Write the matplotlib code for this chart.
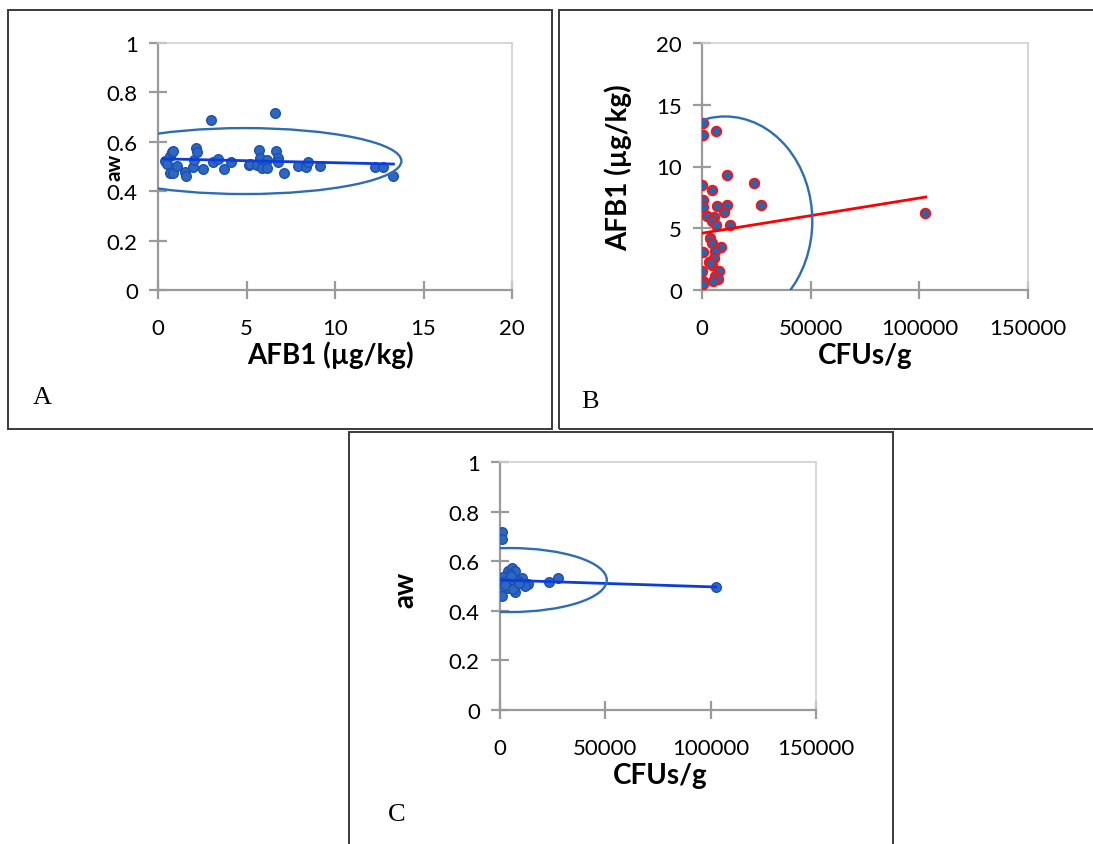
import numpy as np
import matplotlib
matplotlib.use("Agg")
import matplotlib.pyplot as plt
from matplotlib.patches import Ellipse, Rectangle

# panel A: AFB1 (ug/kg) vs aw
a_afb1 = [3.0, 6.6, 0.38, 0.53, 0.68, 0.77, 0.83, 0.68, 0.87, 1.05, 1.53, 1.56,
          2.0, 2.03, 2.15, 2.2, 2.56, 3.13, 3.41, 3.75, 4.1, 5.12, 5.2, 5.58,
          5.7, 5.76, 5.86, 6.14, 6.14, 6.65, 6.76, 6.8, 7.14, 7.9, 8.36, 8.47,
          9.15, 12.28, 12.69, 13.28]
a_aw = [0.69, 0.715, 0.523, 0.509, 0.541, 0.557, 0.564, 0.472, 0.472, 0.503, 0.479, 0.463,
        0.497, 0.528, 0.575, 0.56, 0.489, 0.517, 0.53, 0.49, 0.517, 0.506, 0.51, 0.506,
        0.567, 0.534, 0.494, 0.525, 0.494, 0.564, 0.534, 0.519, 0.475, 0.501, 0.497, 0.517,
        0.503, 0.497, 0.497, 0.46]
a_trend_x = [0.3, 13.3]
a_trend_y = [0.531, 0.510]

# panel B: CFUs/g vs AFB1
b_cfu = [600, 600, 6460, 11400, 23700, 150, 4480, 600, 600, 7060, 11400, 27240,
         10160, 2170, 5540, 4480, 6460, 12930, 3690, 4620, 8630, 600, 6000, 5540,
         3370, 4480, 3800, 7990, 150, 6000, 7530, 4940, 300, 600, 102500]
b_afb1 = [13.52, 12.55, 12.9, 9.31, 8.64, 8.53, 8.12, 7.31, 6.7, 6.78, 6.91, 6.91,
          6.29, 6.02, 5.89, 5.61, 5.26, 5.26, 4.18, 3.81, 3.51, 3.05, 3.13, 2.57,
          2.24, 2.05, 2.15, 1.56, 1.56, 1.16, 0.89, 0.75, 0.75, 0.49, 6.23]
b_trend_x = [0, 103000]
b_trend_y = [4.6, 7.53]

# panel C: CFUs/g vs aw
c_cfu = [800, 800, 3930, 5540, 7100, 4740, 1560, 10300, 23400, 27600, 800, 3170,
         6630, 8670, 11040, 13400, 11850, 800, 3930, 0, 7100, 800, 6300, 2500,
         9000, 5000, 102400]
c_aw = [0.717, 0.69, 0.562, 0.573, 0.562, 0.548, 0.535, 0.532, 0.515, 0.532, 0.515, 0.521,
        0.515, 0.521, 0.508, 0.508, 0.499, 0.495, 0.491, 0.485, 0.475, 0.458, 0.488, 0.505,
        0.512, 0.54, 0.496]
c_trend_x = [300, 102400]
c_trend_y = [0.524, 0.496]

W, H = 1093, 845
TICK_FONT = ["Lato", "DejaVu Sans"]
LABEL_FONT = ["Lato", "DejaVu Sans"]
LETTER_FONT = ["Liberation Serif", "DejaVu Serif"]
AXIS_GRAY = "#9a9a9a"
FRAME_GRAY = "#d0d0d0"
DOT_BLUE = "#2d67c2"
DOT_EDGE = "#1c50b0"
ELL_BLUE = "#2e6db4"


def px_axes(fig, left, top, right, bottom):
    return fig.add_axes([left / W, 1 - bottom / H, (right - left) / W, (bottom - top) / H])


def style_axes(ax, xticks, xlabels, yticks, ylabels):
    ax.set_xlim(xticks[0], xticks[-1])
    ax.set_ylim(yticks[0], yticks[-1])
    ax.set_xticks(xticks, xlabels)
    ax.set_yticks(yticks, ylabels)
    for side in ["left", "bottom"]:
        ax.spines[side].set_color(AXIS_GRAY)
        ax.spines[side].set_linewidth(1.6)
    for side in ["top", "right"]:
        ax.spines[side].set_color(FRAME_GRAY)
        ax.spines[side].set_linewidth(1.2)
    ax.tick_params(axis="both", direction="inout", length=13, width=1.6,
                   color=AXIS_GRAY, labelsize=16)
    ax.tick_params(axis="x", pad=14)
    ax.tick_params(axis="y", pad=8)
    for lab in ax.get_xticklabels() + ax.get_yticklabels():
        lab.set_family(TICK_FONT)
    ax.set_facecolor("white")


def set_labels(ax, xl, xpos, yl, ypos, ysize=20):
    ax.set_xlabel(xl, fontsize=20, fontweight="bold", family=LABEL_FONT)
    ax.set_ylabel(yl, fontsize=ysize, fontweight="bold", family=LABEL_FONT)
    ax.xaxis.set_label_coords(*xpos)
    ax.yaxis.set_label_coords(*ypos)
    ax.xaxis.label.set_va("center")
    ax.yaxis.label.set_va("center")


fig = plt.figure(figsize=(W / 100, H / 100), dpi=100)

# panel frames
for (l, t, r, b) in [(8, 11, 552, 430), (559, 11, 1100, 430), (349, 433, 893, 850)]:
    fig.patches.append(Rectangle((l / W, 1 - b / H), (r - l) / W, (b - t) / H,
                                 transform=fig.transFigure, fill=False,
                                 edgecolor="#3a3a3a", linewidth=1.4))

# A
axA = px_axes(fig, 158, 44, 512, 291)
style_axes(axA, [0, 5, 10, 15, 20], ["0", "5", "10", "15", "20"],
           [0, 0.2, 0.4, 0.6, 0.8, 1.0], ["0", "0.2", "0.4", "0.6", "0.8", "1"])
axA.scatter(a_afb1, a_aw, s=48, color=DOT_BLUE, edgecolor=DOT_EDGE, linewidth=1, zorder=3)
axA.plot(a_trend_x, a_trend_y, color="#0a3ddc", linewidth=2, zorder=4)
axA.add_patch(Ellipse((4.9, 0.522), 17.7, 0.267, fill=False, edgecolor=ELL_BLUE,
                      linewidth=1.7, zorder=5))
set_labels(axA, "AFB1 (µg/kg)", (0.486, -0.259), "aw", (-0.122, 0.5), ysize=15)

# B
axB = px_axes(fig, 702, 44, 1028, 291)
style_axes(axB, [0, 50000, 100000, 150000], ["0", "50000", "100000", "150000"],
           [0, 5, 10, 15, 20], ["0", "5", "10", "15", "20"])
axB.scatter(b_cfu, b_afb1, s=48, color="#2f63a8", edgecolor="#ff1010", linewidth=1.3, zorder=3)
axB.plot(b_trend_x, b_trend_y, color="#ff0000", linewidth=2, zorder=4)
axB.add_patch(Ellipse((10600, 5.6), 80300, 16.9, fill=False, edgecolor=ELL_BLUE,
                      linewidth=1.7, zorder=5))
set_labels(axB, "CFUs/g", (0.5, -0.263), "AFB1 (µg/kg)", (-0.258, 0.5))

# C
axC = px_axes(fig, 500, 463, 816, 711)
style_axes(axC, [0, 50000, 100000, 150000], ["0", "50000", "100000", "150000"],
           [0, 0.2, 0.4, 0.6, 0.8, 1.0], ["0", "0.2", "0.4", "0.6", "0.8", "1"])
axC.scatter(c_cfu, c_aw, s=48, color=DOT_BLUE, edgecolor=DOT_EDGE, linewidth=1, zorder=3)
axC.plot(c_trend_x, c_trend_y, color="#0a3ddc", linewidth=2, zorder=4)
axC.add_patch(Ellipse((4740, 0.524), 91900, 0.258, fill=False, edgecolor=ELL_BLUE,
                      linewidth=1.7, zorder=5))
set_labels(axC, "CFUs/g", (0.506, -0.262), "aw", (-0.30, 0.488))

# panel letters
for letter, x, y in [("A", 42, 398), ("B", 590, 402), ("C", 397, 815)]:
    fig.text(x / W, 1 - y / H, letter, fontsize=19, family=LETTER_FONT,
             ha="center", va="center")

fig.savefig("out.png", dpi=100)
